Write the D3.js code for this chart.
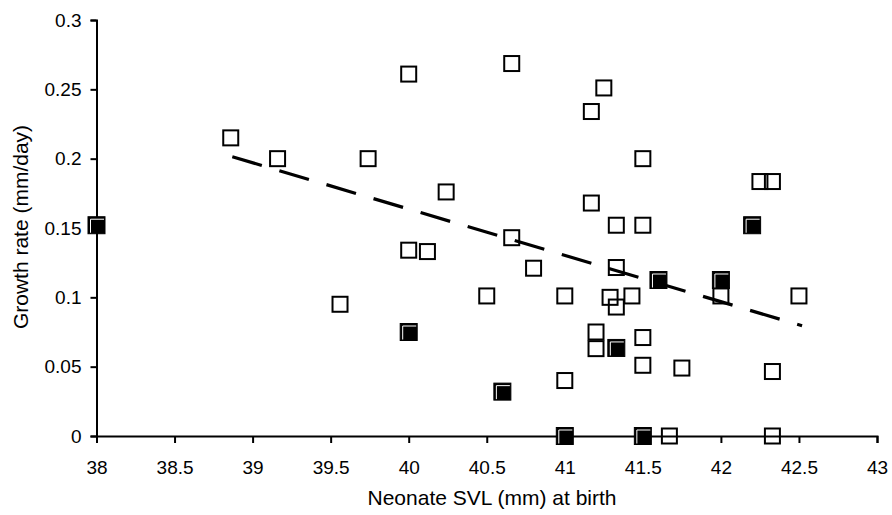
<!DOCTYPE html>
<html>
<head>
<meta charset="utf-8">
<script src="https://cdn.jsdelivr.net/npm/d3@7"></script>
<style>
  html, body { margin: 0; padding: 0; background: #fff; }
  svg { display: block; }
  text { font-family: "Liberation Sans", Arial, sans-serif; fill: #000; }
</style>
</head>
<body>
<svg id="chart" width="892" height="515"></svg>
<script>
// ---- data ----
const openX = [38.86, 39.16, 39.74, 40.0, 40.24, 40.0, 40.12, 39.56, 40.5, 40.66, 40.66, 40.8,
  41.0, 41.0, 41.17, 41.25, 41.17, 41.33, 41.5, 41.5, 41.33, 41.29, 41.43, 41.33, 41.2, 41.2,
  41.5, 41.5, 41.75, 42.0, 42.25, 42.33, 42.5, 42.33, 41.67, 42.33];
const openY = [0.215, 0.2, 0.2, 0.261, 0.176, 0.134, 0.133, 0.095, 0.101, 0.2686, 0.143, 0.121,
  0.101, 0.04, 0.234, 0.251, 0.168, 0.152, 0.152, 0.2, 0.1215, 0.1, 0.101, 0.093, 0.075, 0.063,
  0.071, 0.051, 0.049, 0.101, 0.1835, 0.1835, 0.101, 0.0465, 0.0, 0.0];
const filledX = [38.0, 40.0, 40.6, 41.0, 41.33, 41.6, 42.0, 42.2, 41.5];
const filledY = [0.152, 0.075, 0.032, 0.0, 0.0635, 0.1125, 0.1125, 0.152, 0.0];
const trendX = [38.87, 42.52];
const trendY = [0.2014, 0.0795];
const xTicks = [38, 38.5, 39, 39.5, 40, 40.5, 41, 41.5, 42, 42.5, 43];
const yTicks = [0, 0.05, 0.1, 0.15, 0.2, 0.25, 0.3];
const xLabel = "Neonate SVL (mm) at birth";
const yLabel = "Growth rate (mm/day)";

// ---- layout ----
const svg = d3.select("#chart");
const mLeft = 96.5, mRight = 877, mTop = 20, mBottom = 436;
const x = d3.scaleLinear().domain([38, 43]).range([mLeft, mRight]);
const y = d3.scaleLinear().domain([0, 0.3]).range([mBottom, mTop]);

// axes
const xAxis = d3.axisBottom(x).tickValues(xTicks).tickFormat(d => d3.format("")(d)).tickSize(7).tickPadding(18).tickSizeOuter(7);
const yAxis = d3.axisLeft(y).tickValues(yTicks).tickFormat(d => d3.format("")(d)).tickSize(6).tickPadding(9).tickSizeOuter(6);

const gx = svg.append("g").attr("transform", `translate(0,${mBottom})`).call(xAxis);
const gy = svg.append("g").attr("transform", `translate(${mLeft},0)`).call(yAxis);
[gx, gy].forEach(g => {
  g.selectAll("path.domain").attr("stroke", "#000").attr("stroke-width", 2);
  g.selectAll(".tick line").attr("stroke", "#000").attr("stroke-width", 2);
  g.selectAll(".tick text").style("font-family", '"Liberation Sans", Arial, sans-serif').style("font-size", "19px").attr("fill", "#000");
});

// axis titles
svg.append("text").attr("x", 492).attr("y", 505).attr("text-anchor", "middle")
  .style("font-size", "21px").text(xLabel);
svg.append("text").attr("transform", `translate(28,227) rotate(-90)`).attr("text-anchor", "middle")
  .style("font-size", "21px").text(yLabel);

// trend line
svg.append("path")
  .datum(trendX.map((d, i) => [d, trendY[i]]))
  .attr("d", d3.line().x(d => x(d[0])).y(d => y(d[1])))
  .attr("fill", "none").attr("stroke", "#000").attr("stroke-width", 3.2)
  .attr("stroke-dasharray", "30.8,18.3");

// open squares
const s = 15;
svg.append("g").selectAll("rect").data(openX.map((d, i) => [d, openY[i]])).join("rect")
  .attr("x", d => x(d[0]) - s / 2).attr("y", d => y(d[1]) - s / 2)
  .attr("width", s).attr("height", s)
  .attr("fill", "none").attr("stroke", "#000").attr("stroke-width", 2);

// filled squares
const fs = 17;
const fg = svg.append("g").selectAll("g").data(filledX.map((d, i) => [d, filledY[i]])).join("g")
  .attr("transform", d => `translate(${x(d[0])},${y(d[1])})`);
fg.append("rect").attr("x", -fs / 2).attr("y", -fs / 2).attr("width", fs).attr("height", fs)
  .attr("fill", "#000").attr("stroke", "#000").attr("stroke-width", 1);
fg.append("path").attr("d", `M${-fs/2 + 2.5},${fs/2 - 1} V${-fs/2 + 2.5} H${fs/2 - 1}`)
  .attr("fill", "none").attr("stroke", "#fff").attr("stroke-width", 1);
</script>
</body>
</html>
